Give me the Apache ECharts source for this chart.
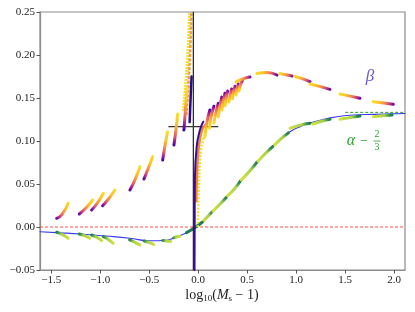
<!DOCTYPE html>
<html><head><meta charset="utf-8">
<script src="https://cdn.jsdelivr.net/npm/echarts@6/dist/echarts.min.js"></script>
<style>html,body{margin:0;padding:0;background:#fff}#c{width:415px;height:312px}</style>
</head><body><div id="c"></div>
<script>
// ---- ticks ----
const xTicks = [-1.5, -1.0, -0.5, 0.0, 0.5, 1.0, 1.5, 2.0];
const yTicks = [-0.05, 0.00, 0.05, 0.10, 0.15, 0.20, 0.25];
const xRange = [-1.615, 2.11];
const yRange = [-0.05, 0.25];

// ---- reference lines ----
const zeroLine = [[-1.615, 0], [2.11, 0]];
const alphaAsymptote = [[1.5, 0.1333], [2.11, 0.1333]];
const crossV = [[-0.05, -0.05], [-0.05, 0.25]];
const crossH = [[-0.30, 0.1167], [0.20, 0.1167]];

// ---- theoretical alpha - 2/3 curve ----
const alphaTheory = [[-1.615,-0.0055],[-1.4,-0.0068],[-1.2,-0.0082],[-0.94,-0.0105],[-0.7,-0.013],[-0.5,-0.016],
  [-0.35,-0.0157],[-0.22,-0.0113],[-0.12,-0.0066],[-0.016,0.0003],[0.1,0.0125],[0.2,0.0245],[0.36,0.043],
  [0.53,0.066],[0.7,0.0876],[0.87,0.105],[0.94,0.111],[1.04,0.1167],[1.14,0.121],[1.28,0.1252],[1.38,0.1275],
  [1.55,0.13],[1.8,0.131],[2.11,0.132]];

// ---- measured alpha - 2/3 segments (dark-green end first) ----
const alphaSegments = [
  [[-1.445,-0.0062],[-1.39,-0.0085],[-1.327,-0.0131]],
  [[-1.214,-0.0081],[-1.16,-0.0100],[-1.105,-0.0131]],
  [[-1.088,-0.0093],[-1.037,-0.0120],[-0.986,-0.0159]],
  [[-0.969,-0.0113],[-0.918,-0.0145],[-0.867,-0.0190]],
  [[-0.70,-0.0150],[-0.65,-0.0175],[-0.595,-0.0209]],
  [[-0.55,-0.0163],[-0.50,-0.0180],[-0.455,-0.0203]],
  [[-0.36,-0.0157],[-0.32,-0.0163],[-0.28,-0.0168]],
  [[-0.25,-0.0125],[-0.22,-0.0113],[-0.19,-0.0108]],
  [[0.14,0.0175],[0.09,0.0115],[0.05,0.0066]],
  [[0.29,0.035],[0.22,0.0265],[0.15,0.0185]],
  [[0.43,0.0535],[0.37,0.0445],[0.30,0.0362]],
  [[0.60,0.0755],[0.52,0.0645],[0.44,0.0548]],
  [[0.76,0.0935],[0.69,0.086],[0.61,0.0765]],
  [[0.92,0.1095],[0.85,0.103],[0.78,0.0955]],
  [[1.14,0.1206],[1.04,0.1185],[0.936,0.1148]],
  [[1.344,0.1252],[1.26,0.123],[1.17,0.1198]],
  [[1.65,0.129],[1.55,0.1272],[1.446,0.1252]],
  [[1.977,0.1302],[1.88,0.1293],[1.786,0.1283]]
];
const alphaCross = [[-0.12,-0.0066],[-0.04,-0.0012],[0.04,0.0055]];

// ---- measured beta segments (purple end first) ----
const betaSegments = [
  [[-1.445,0.0101],[-1.394,0.0140],[-1.327,0.0276]],
  [[-1.214,0.0151],[-1.146,0.0221],[-1.078,0.0314]],
  [[-1.088,0.0198],[-1.029,0.0279],[-0.969,0.0392]],
  [[-0.976,0.0248],[-0.916,0.0326],[-0.850,0.0430]],
  [[-0.697,0.0430],[-0.646,0.0547],[-0.595,0.0701]],
  [[-0.554,0.0558],[-0.513,0.0674],[-0.465,0.0817]],
  [[-0.363,0.0779],[-0.340,0.0942],[-0.314,0.1105]],
  [[-0.248,0.0953],[-0.228,0.1128],[-0.210,0.1314]],
  [[-0.146,0.1128],[-0.131,0.1360],[-0.115,0.1616]],
  [[0.119,0.136],[0.089,0.122],[0.068,0.1047]],
  [[0.16,0.1405],[0.13,0.128],[0.115,0.115]],
  [[0.204,0.1438],[0.18,0.133],[0.160,0.1209]],
  [[0.24,0.151],[0.22,0.14],[0.205,0.128]],
  [[0.272,0.1555],[0.255,0.146],[0.242,0.136]],
  [[0.30,0.158],[0.285,0.15],[0.275,0.141]],
  [[0.341,0.1605],[0.325,0.153],[0.313,0.1453]],
  [[0.375,0.1635],[0.36,0.157],[0.35,0.149]],
  [[0.408,0.1663],[0.395,0.160],[0.385,0.1535]],
  [[0.45,0.170],[0.43,0.165],[0.415,0.158]],
  [[0.528,0.1744],[0.45,0.172],[0.385,0.1687]],
  [[0.803,0.1767],[0.701,0.1797],[0.599,0.1785]],
  [[0.956,0.1756],[0.895,0.177],[0.834,0.1785]],
  [[1.14,0.169],[1.06,0.1725],[0.987,0.175]],
  [[1.344,0.1601],[1.24,0.1635],[1.14,0.1663]],
  [[1.65,0.1497],[1.55,0.1522],[1.446,0.1547]],
  [[1.99,0.1427],[1.89,0.1442],[1.786,0.1457]]
];

// ---- dense vertical cloud near log10(Ms-1) ~ 0 ----
const bandYellow = [[-0.15,0.135],[-0.13,0.16],[-0.105,0.20],[-0.085,0.25]];
const bandOrange = [[-0.12,0.13],[-0.10,0.165],[-0.08,0.21],[-0.07,0.25]];
const bandPurple = [[-0.088,0.122],[-0.078,0.15],[-0.068,0.175]];
const jPurple = [[-0.038,-0.05],[-0.036,0.02],[-0.034,0.0547],[-0.016,0.0934],[0.017,0.1128],[0.051,0.1224]];
const jOrange = [[-0.02,0.03],[-0.013,0.06],[0.002,0.0895],[0.038,0.1128],[0.075,0.119]];
const jYellow = [[-0.005,0.0],[0.005,0.04],[0.028,0.0895],[0.065,0.107]];

const plasma = [{offset:0,color:'#0d0887'},{offset:0.08,color:'#4a02a0'},{offset:0.18,color:'#9c179e'},
  {offset:0.3,color:'#d5546e'},{offset:0.45,color:'#f48849'},{offset:0.65,color:'#fdc328'},{offset:1,color:'#f3e828'}];
const greens = [{offset:0,color:'#0f6e4a'},{offset:0.22,color:'#2e8b4e'},{offset:0.42,color:'#a6d34a'},{offset:1,color:'#dce53b'}];

function grad(seg, stops){
  const a = seg[0], b = seg[seg.length-1];
  const lr = a[0] <= b[0], td = a[1] >= b[1];
  return {type:'linear', x: lr?0:1, x2: lr?1:0, y: td?0:1, y2: td?1:0, colorStops: stops};
}
function line(data, color, width, extra){
  const o = {type:'line', data: data, showSymbol:false, symbol:'none', silent:true, animation:false,
    lineStyle:{color: color, width: width, cap:'round', join:'round'}};
  if (extra && extra.dash) { o.lineStyle.type = extra.dash; o.lineStyle.cap = 'butt'; }
  if (extra && extra.smooth) o.smooth = true;
  return o;
}
const fmt = v => (Math.abs(v) < 1e-9 ? 0 : v);
const series = [];
series.push(line(zeroLine, '#ff4d4d', 1, {dash:[3,2]}));
series.push(line(alphaTheory, '#3b3bf0', 1.1, {smooth:true}));
series.push(line(alphaAsymptote, '#2ca02c', 1, {dash:[3,2]}));
alphaSegments.forEach(s => series.push(line(s, grad(s, greens), 3, {smooth:true})));
series.push(line(alphaCross, '#1b7d55', 3, {smooth:true}));
series.push(line(bandYellow, '#f3df2e', 3.5, {smooth:true, dash:[2,1]}));
series.push(line(bandOrange, '#f59a45', 2.5, {smooth:true, dash:[3,1.5]}));
series.push(line(bandPurple, '#2a0794', 2.5, {smooth:true}));
series.push(line(crossV, '#222', 1.2));
series.push(line(crossH, '#333', 1.2));
series.push(line(jYellow, '#f3df2e', 2.5, {smooth:true, dash:[2,1.5]}));
series.push(line(jOrange, '#f0843f', 2.5, {smooth:true}));
series.push(line(jPurple, '#3a0a9c', 2, {smooth:true}));
betaSegments.forEach(s => series.push(line(s, grad(s, plasma), 3, {smooth:true})));

const tickFont = {fontFamily:'Liberation Serif', fontSize:11, color:'#222'};
const chart = echarts.init(document.getElementById('c'), null, {renderer:'canvas'});
chart.setOption({
  animation:false,
  grid:{left:40, right:10, top:12, bottom:42, show:true, borderColor:'#8c8c8c', borderWidth:1.2, backgroundColor:'transparent'},
  xAxis:{type:'value', min:xRange[0], max:xRange[1],
    axisLine:{show:true, onZero:false, lineStyle:{color:'#8c8c8c', width:1.2}},
    axisTick:{show:true, length:3.5, customValues:xTicks, lineStyle:{color:'#555'}},
    axisLabel:Object.assign({customValues:xTicks, margin:5, formatter:v=>fmt(v).toFixed(1).replace('-','−')}, tickFont),
    splitLine:{show:false}},
  yAxis:{type:'value', min:yRange[0], max:yRange[1],
    axisLine:{show:true, onZero:false, lineStyle:{color:'#8c8c8c', width:1.2}},
    axisTick:{show:true, length:3.5, customValues:yTicks, lineStyle:{color:'#555'}},
    axisLabel:Object.assign({customValues:yTicks, margin:5, formatter:v=>fmt(v).toFixed(2).replace('-','−')}, tickFont),
    splitLine:{show:false}},
  series: series,
  graphic:[
    {type:'text', x:370, y:77, style:{text:'β', fontFamily:'Liberation Serif', fontStyle:'italic', fontSize:17, fill:'#6a5acd', align:'center', verticalAlign:'middle'}},
    {type:'text', x:351, y:141, style:{text:'α', fontFamily:'Liberation Serif', fontStyle:'italic', fontSize:16, fill:'#2ca02c', align:'center', verticalAlign:'middle'}},
    {type:'text', x:364, y:141, style:{text:'−', fontFamily:'Liberation Serif', fontSize:14, fill:'#2ca02c', align:'center', verticalAlign:'middle'}},
    {type:'text', x:377, y:134, style:{text:'2', fontFamily:'Liberation Serif', fontSize:10, fill:'#2ca02c', align:'center', verticalAlign:'middle'}},
    {type:'line', shape:{x1:373.5, y1:141, x2:380.5, y2:141}, style:{stroke:'#2ca02c', lineWidth:0.8}},
    {type:'text', x:377, y:147.5, style:{text:'3', fontFamily:'Liberation Serif', fontSize:10, fill:'#2ca02c', align:'center', verticalAlign:'middle'}},
    {type:'text', x:222, y:295, style:{
      text:'{n|log}{s|10}{n|(}{i|M}{s|s}{n| − 1)}', align:'center', verticalAlign:'middle',
      rich:{
        n:{fontFamily:'Liberation Serif', fontSize:14, fill:'#222'},
        i:{fontFamily:'Liberation Serif', fontStyle:'italic', fontSize:14, fill:'#222'},
        s:{fontFamily:'Liberation Serif', fontSize:9, fill:'#222', padding:[7,0,0,0]}
      }}}
  ]
});
</script></body></html>
